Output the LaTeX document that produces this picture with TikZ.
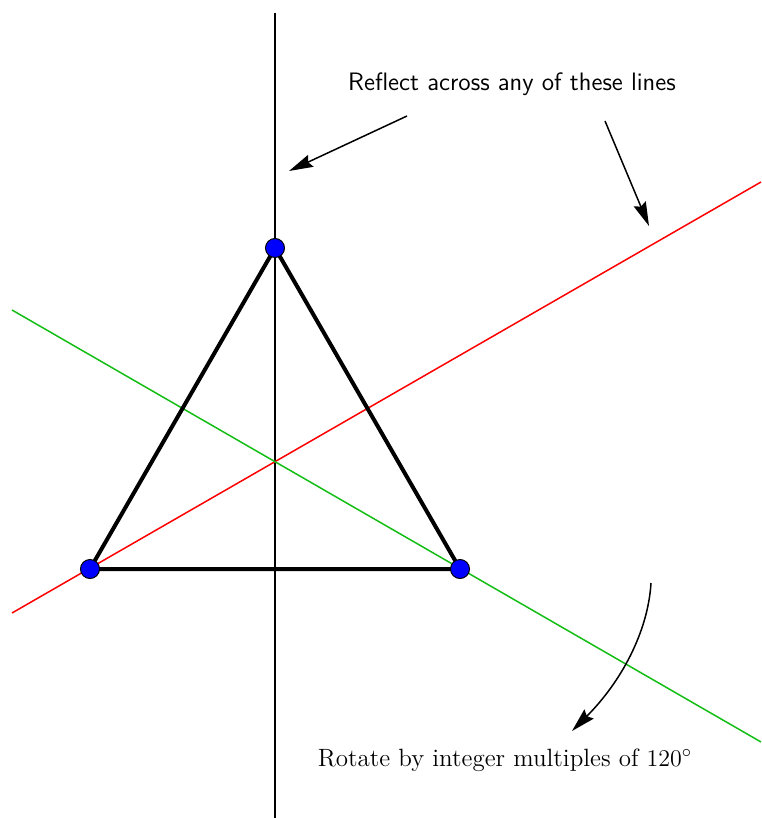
\documentclass[tikz,border=0pt]{standalone}
\usetikzlibrary{arrows.meta}
\definecolor{lgreen}{RGB}{20,190,20}
\begin{document}
\begin{tikzpicture}[x=0.5pt,y=-0.5pt,
 vert/.style={circle,draw=black,fill=blue,line width=0.5pt,inner sep=0pt,minimum size=9.5pt},
 thinline/.style={line width=0.75pt},
 tedge/.style={line width=2pt},
 pointer/.style={line width=0.75pt,-{Stealth[length=12pt,width=6.5pt,inset=1.5pt]}},
 lbl/.style={inner sep=0pt}]
\useasboundingbox (0,0) rectangle (761,818);
% line end points
\coordinate (vT) at (275,13);
\coordinate (vB) at (275,818);
\coordinate (rA) at (12,613);
\coordinate (rB) at (761,182);
\coordinate (gA) at (12,310);
\coordinate (gB) at (761,742);
\coordinate (C) at (275,462);
% symmetry lines
\draw[thinline] (vT) -- (vB);
\draw[thinline,red] (rA) -- (rB);
\draw[thinline,lgreen] (gA) -- (gB);
% triangle
\coordinate (P1) at (275,248);
\coordinate (P2) at (90,569);
\coordinate (P3) at (460,569);
\draw[tedge,line join=round] (P1) -- (P2) -- (P3) -- cycle;
\node[vert] (n1) at (P1) {};
\node[vert] (n2) at (P2) {};
\node[vert] (n3) at (P3) {};
% labels
\node[lbl,font=\sffamily\fontsize{12.6}{15}\selectfont] (reflect) at (512,84) {Reflect across any of these lines};
\node[lbl,font=\fontsize{12.5}{15}\selectfont] (rotate) at (505,760) {Rotate by integer multiples of $120^\circ$};
% pointers
\coordinate (a1s) at (407,116);
\coordinate (a1e) at (289,171);
\coordinate (a2s) at (605,121);
\coordinate (a2e) at (649,226);
\draw[pointer] (a1s) -- (a1e);
\draw[pointer] (a2s) -- (a2e);
\coordinate (a3s) at (651,583);
\coordinate (a3e) at (572,731);
\draw[pointer] (a3s) .. controls (648,632) and (621,682) .. (a3e);
\end{tikzpicture}
\end{document}
